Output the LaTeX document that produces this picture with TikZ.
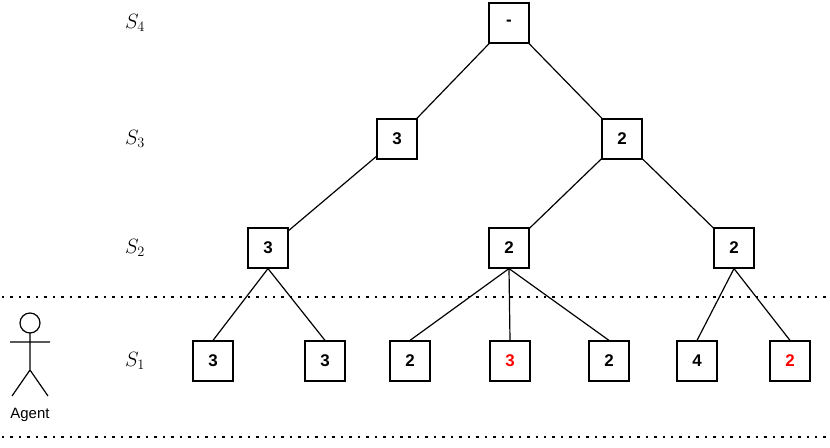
\documentclass[tikz,border=0pt]{standalone}
\usepackage{fontspec}
\setsansfont{Liberation Sans}
\begin{document}
\begin{tikzpicture}[x=1bp,y=-1bp,
  box/.style={draw,line width=1.2pt,minimum width=40bp,minimum height=40bp,inner sep=0,font=\sffamily\bfseries\fontsize{17}{19}\selectfont},
  lab/.style={font=\fontsize{22}{24}\selectfont},
  edge/.style={line width=1.2pt}]
\useasboundingbox (0,0) rectangle (830,448);
\node[box] (a) at (509,23) {-};
\node[box] (b1) at (397,139) {3};
\node[box] (b2) at (622,139) {2};
\node[box] (c1) at (268,248) {3};
\node[box] (c2) at (509,248) {2};
\node[box] (c3) at (734,248) {2};
\node[box] (d1) at (213,361) {3};
\node[box] (d2) at (325,361) {3};
\node[box] (d3) at (410,361) {2};
\node[box,text=red] (d4) at (510,361) {3};
\node[box] (d5) at (609,361) {2};
\node[box] (d6) at (697,361) {4};
\node[box,text=red] (d7) at (790,361) {2};
\foreach \p/\c in {a/b1,a/b2,b1/c1,b2/c2,b2/c3}
  \draw[edge] (\p) -- (\c);
\foreach \p/\c in {c1/d1,c1/d2,c2/d3,c2/d4,c2/d5,c3/d6,c3/d7}
  \draw[edge] (\p.south) -- (\c.north);
\node[lab] (s4) at (135,23) {$S_4$};
\node[lab] (s3) at (135,139) {$S_3$};
\node[lab] (s2) at (135,248) {$S_2$};
\node[lab] (s1) at (135,361) {$S_1$};
\draw[line width=2.5pt,dash pattern=on 2.5pt off 6pt] (2,297) -- (830,297);
\draw[line width=2.5pt,dash pattern=on 2.5pt off 6pt] (2,437) -- (830,437);
\draw[line width=1.2pt] (30,323) circle (10);
\draw[line width=1.2pt] (30,333) -- (30,370) (10,342) -- (50,342) (30,370) -- (12,396) (30,370) -- (48,396);
\node[font=\sffamily\fontsize{15}{17}\selectfont] (ag) at (30,415) {Agent};
\end{tikzpicture}
\end{document}
